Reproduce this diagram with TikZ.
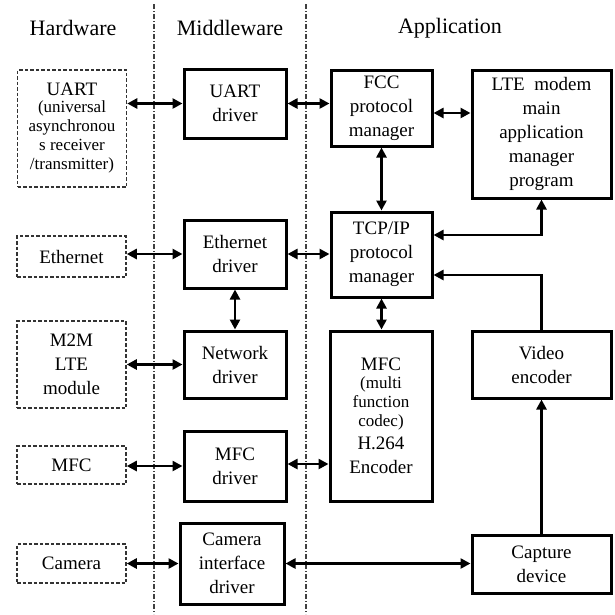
\documentclass[tikz,border=0pt]{standalone}
\usepackage{fontspec}
\setmainfont{Liberation Serif}
\usetikzlibrary{arrows.meta}
\newcommand{\smalltxt}{\fontsize{17}{19}\selectfont}
\begin{document}
\begin{tikzpicture}[x=1pt,y=-1pt,
  hwbox/.style={draw=black!80, line width=1.5pt, dash pattern=on 3.5pt off 2pt, minimum width=109pt, align=center, inner sep=0pt, font=\fontsize{19}{24}\selectfont},
  swbox/.style={draw=black, line width=3pt, align=center, inner sep=0pt, font=\fontsize{19}{24}\selectfont},
  title/.style={font=\fontsize{22}{26}\selectfont},
  dbl/.style={line width=2.8pt, {Triangle[length=10pt,width=10pt]}-{Triangle[length=10pt,width=10pt]}},
  sgl/.style={line width=2.8pt, -{Triangle[length=10pt,width=10pt]}},
  sep/.style={draw=black!75, line width=1.1pt, dash pattern=on 5pt off 2pt on 1pt off 2pt}]
\fill[white] (0,0) rectangle (615,614);
\useasboundingbox (0,0) rectangle (615,614);

% separators
\coordinate (s1t) at (154,4);
\coordinate (s1b) at (154,614);
\coordinate (s2t) at (306,4);
\coordinate (s2b) at (306,614);
\draw[sep] (s1t) -- (s1b);
\draw[sep] (s2t) -- (s2b);

% titles
\node[title] (tHW) at (73,28) {Hardware};
\node[title] (tMW) at (230,28) {Middleware};
\node[title] (tAP) at (450,28) {Application};

% hardware
\node[hwbox, minimum height=117pt] (hwUART) at (72,128.5)
  {UART\\[-7pt]\smalltxt(universal\\[-5pt]\smalltxt asynchronou\\[-5pt]\smalltxt s receiver\\[-5pt]\smalltxt /transmitter)};
\node[hwbox, minimum height=41pt] (hwEth) at (71.5,256.5) {Ethernet};
\node[hwbox, minimum height=87pt] (hwM2M) at (71.5,364.5) {M2M\\LTE\\module};
\node[hwbox, minimum height=38pt] (hwMFC) at (71.5,465) {MFC};
\node[hwbox, minimum height=39pt] (hwCam) at (71.5,563.5) {Camera};

% middleware
\node[swbox, minimum width=102pt, minimum height=69pt] (drvUART) at (235,103.5) {UART\\driver};
\node[swbox, minimum width=102pt, minimum height=68pt] (drvEth) at (235,254) {Ethernet\\driver};
\node[swbox, minimum width=102pt, minimum height=67pt] (drvNet) at (235,364.5) {Network\\driver};
\node[swbox, minimum width=102pt, minimum height=70pt] (drvMFC) at (235,466) {MFC\\driver};
\node[swbox, minimum width=104pt, minimum height=81pt] (drvCam) at (232,563.5) {Camera\\interface\\driver};

% application
\node[swbox, minimum width=101pt, minimum height=76pt] (FCC) at (381.5,108) {FCC\\protocol\\manager};
\node[swbox, minimum width=139pt, minimum height=128pt] (LTE) at (541.5,134) {LTE~ modem\\main\\application\\manager\\program};
\node[swbox, minimum width=101pt, minimum height=85pt] (TCP) at (381.5,254.5) {TCP/IP\\protocol\\manager};
\node[swbox, minimum width=102pt, minimum height=170pt] (MFCenc) at (381,416)
  {MFC\\[-6pt]\smalltxt(multi\\[-5pt]\smalltxt function\\[-5pt]\smalltxt codec)\\[-1pt]H.264\\Encoder};
\node[swbox, minimum width=139pt, minimum height=67pt] (Video) at (541.5,364.5) {Video\\encoder};
\node[swbox, minimum width=139pt, minimum height=58pt] (Capture) at (541.5,564) {Capture\\device};

% hardware <-> drivers
\draw[dbl] (hwUART.east |- drvUART.west) -- (drvUART.west);
\draw[dbl] (hwEth.east |- drvEth.west) -- (drvEth.west);
\draw[dbl] (hwM2M.east |- drvNet.west) -- (drvNet.west);
\draw[dbl] (hwMFC.east |- drvMFC.west) -- (drvMFC.west);
\draw[dbl] (hwCam.east |- drvCam.west) -- (drvCam.west);

% drivers <-> application
\draw[dbl] (drvUART.east) -- (FCC.west |- drvUART.east);
\draw[dbl] (drvEth.east) -- (TCP.west |- drvEth.east);
\draw[dbl] ([yshift=2pt]drvMFC.east) -- ([yshift=2pt]MFCenc.west |- drvMFC.east);
\draw[dbl] (drvCam.east) -- (Capture.west |- drvCam.east);
\draw[dbl] (drvEth.south) -- (drvNet.north);

% application links
\draw[dbl] ([yshift=-5pt]FCC.east) -- ([yshift=-5pt]LTE.west |- FCC.east);
\draw[dbl] (FCC.south) -- (TCP.north);
\draw[dbl] (TCP.south) -- (TCP.south |- MFCenc.north);
\draw[dbl] (LTE.south) |- ([yshift=19.5pt]TCP.east);
\draw[sgl] (Video.north) |- ([yshift=-20.5pt]TCP.east);
\draw[sgl] (Capture.north) -- (Video.south);
\end{tikzpicture}
\end{document}
